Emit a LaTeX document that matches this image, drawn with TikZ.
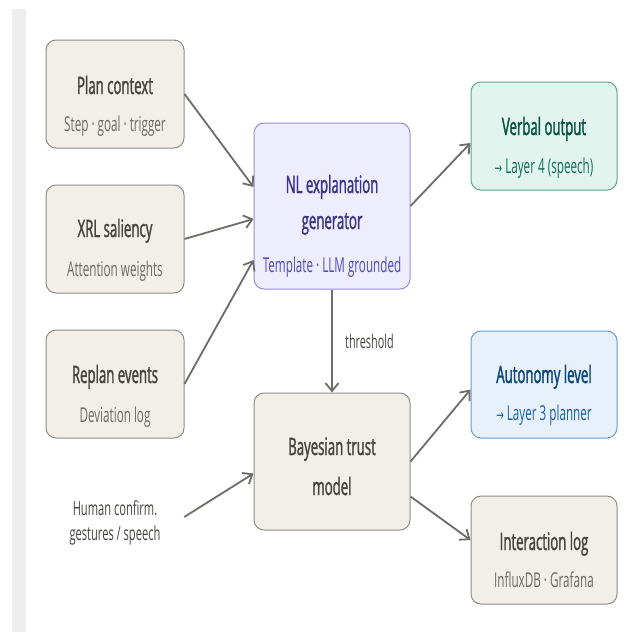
\documentclass[tikz,border=0pt]{standalone}
\usepackage{fontspec}
\setmainfont{Open Sans}[FakeStretch=0.57]
\newfontfamily\ttlfont{Open Sans}[FakeStretch=0.55,FakeBold=1.3]
\newfontfamily\arrowfont{DejaVu Sans}[FakeStretch=0.6]
\usetikzlibrary{arrows.meta,calc}
\definecolor{stripgray}{HTML}{EEEEEE}
\definecolor{grayfill}{HTML}{F1EFE8}
\definecolor{grayline}{HTML}{8E8C86}
\definecolor{graytitle}{HTML}{444441}
\definecolor{graysub}{HTML}{6B6A65}
\definecolor{purplefill}{HTML}{EEEDFE}
\definecolor{purpleline}{HTML}{958FD0}
\definecolor{purpletitle}{HTML}{3C3489}
\definecolor{purplesub}{HTML}{534AB7}
\definecolor{tealfill}{HTML}{E1F5EE}
\definecolor{tealline}{HTML}{5FA48A}
\definecolor{tealtitle}{HTML}{085041}
\definecolor{tealsub}{HTML}{0F6E56}
\definecolor{bluefill}{HTML}{E6F1FB}
\definecolor{blueline}{HTML}{6B9CCC}
\definecolor{bluetitle}{HTML}{0C447C}
\definecolor{bluesub}{HTML}{185FA5}
\definecolor{arrowgray}{HTML}{6D6C68}
\begin{document}
\begin{tikzpicture}[x=1pt,y=-1pt,
    box/.style={rectangle,rounded corners=10pt,line width=1pt,minimum width=138pt,minimum height=108pt},
    graybox/.style={box,fill=grayfill,draw=grayline},
    ttl/.style={anchor=base,font=\ttlfont\fontsize{24}{28}\selectfont,text=graytitle},
    sbt/.style={anchor=base,font=\fontsize{20.5}{24}\selectfont,text=graysub},
    flow/.style={-{Straight Barb[length=8pt,width=13pt]},line width=1.8pt,draw=arrowgray}]
\useasboundingbox[fill=white] (0,0) rectangle (636,632);
\fill[stripgray] (12,9) rectangle (26,632);
% inputs
\node [graybox] (plan) at (115,94) {};
\node [ttl] (plantitle) at (115,94) {Plan context};
\node [sbt] (plansub) at (115,131) {Step · goal · trigger};
\node [graybox] (xrl) at (115,239) {};
\node [ttl] (xrltitle) at (115,237) {XRL saliency};
\node [sbt] (xrlsub) at (115,276) {Attention weights};
\node [graybox] (replan) at (115,384) {};
\node [ttl] (replantitle) at (115,383) {Replan events};
\node [sbt] (replansub) at (115,422) {Deviation log};
\node [align=center,text=graytitle,minimum width=138pt,font=\fontsize{19.5}{25}\selectfont] (human) at (115,523) {Human confirm.\\gestures / speech};
% generator
\node [box,fill=purplefill,draw=purpleline,minimum width=156pt,minimum height=166pt] (nl) at (332,206) {};
\node [ttl,text=purpletitle] (nltitle) at (332,193) {NL explanation};
\node [ttl,text=purpletitle] (nltitle2) at (332,229) {generator};
\node [sbt,text=purplesub] (nlsub) at (332,272) {Template · LLM grounded};
% trust model
\node [graybox,minimum width=156pt,minimum height=137pt] (bayes) at (332,461.5) {};
\node [ttl] (bayestitle) at (332,455) {Bayesian trust};
\node [ttl] (bayestitle2) at (332,495) {model};
% outputs
\node [box,fill=tealfill,draw=tealline,minimum width=146pt] (verbal) at (544,136) {};
\node [ttl,text=tealtitle] (verbaltitle) at (544,135) {Verbal output};
\node [sbt,text=tealsub] (verbalsub) at (544,173) {{\arrowfont\fontsize{15}{19}\selectfont →} Layer 4 (speech)};
\node [box,fill=bluefill,draw=blueline,minimum width=146pt,minimum height=107pt] (auto) at (544,384.5) {};
\node [ttl,text=bluetitle] (autotitle) at (544,383) {Autonomy level};
\node [sbt,text=bluesub] (autosub) at (544,420) {{\arrowfont\fontsize{15}{19}\selectfont →} Layer 3 planner};
\node [graybox,minimum width=146pt] (ilog) at (544,550) {};
\node [ttl] (ilogtitle) at (544,550) {Interaction log};
\node [sbt] (ilogsub) at (544,587) {InfluxDB · Grafana};
% connectors
\draw [flow] (plan.east) -- ($(nl.west)+(0,-19)$);
\draw [flow] (xrl.east) -- ($(nl.west)+(0,13)$);
\draw [flow] (replan.east) -- ($(nl.west)+(0,54)$);
\draw [flow] (nl.east) -- ($(verbal.west)+(0,7)$);
\draw [flow] (nl.south) -- node [right,text=graytitle,font=\fontsize{19}{22}\selectfont,xshift=9pt] (thr) {threshold} (bayes.north);
\draw [flow] ($(human.east)+(0,-6)$) -- ($(bayes.west)+(0,12)$);
\draw [flow] (bayes.east) -- ($(auto.west)+(0,5)$);
\draw [flow] ($(bayes.east)+(0,35)$) -- ($(ilog.west)+(0,-10)$);
\end{tikzpicture}
\end{document}
